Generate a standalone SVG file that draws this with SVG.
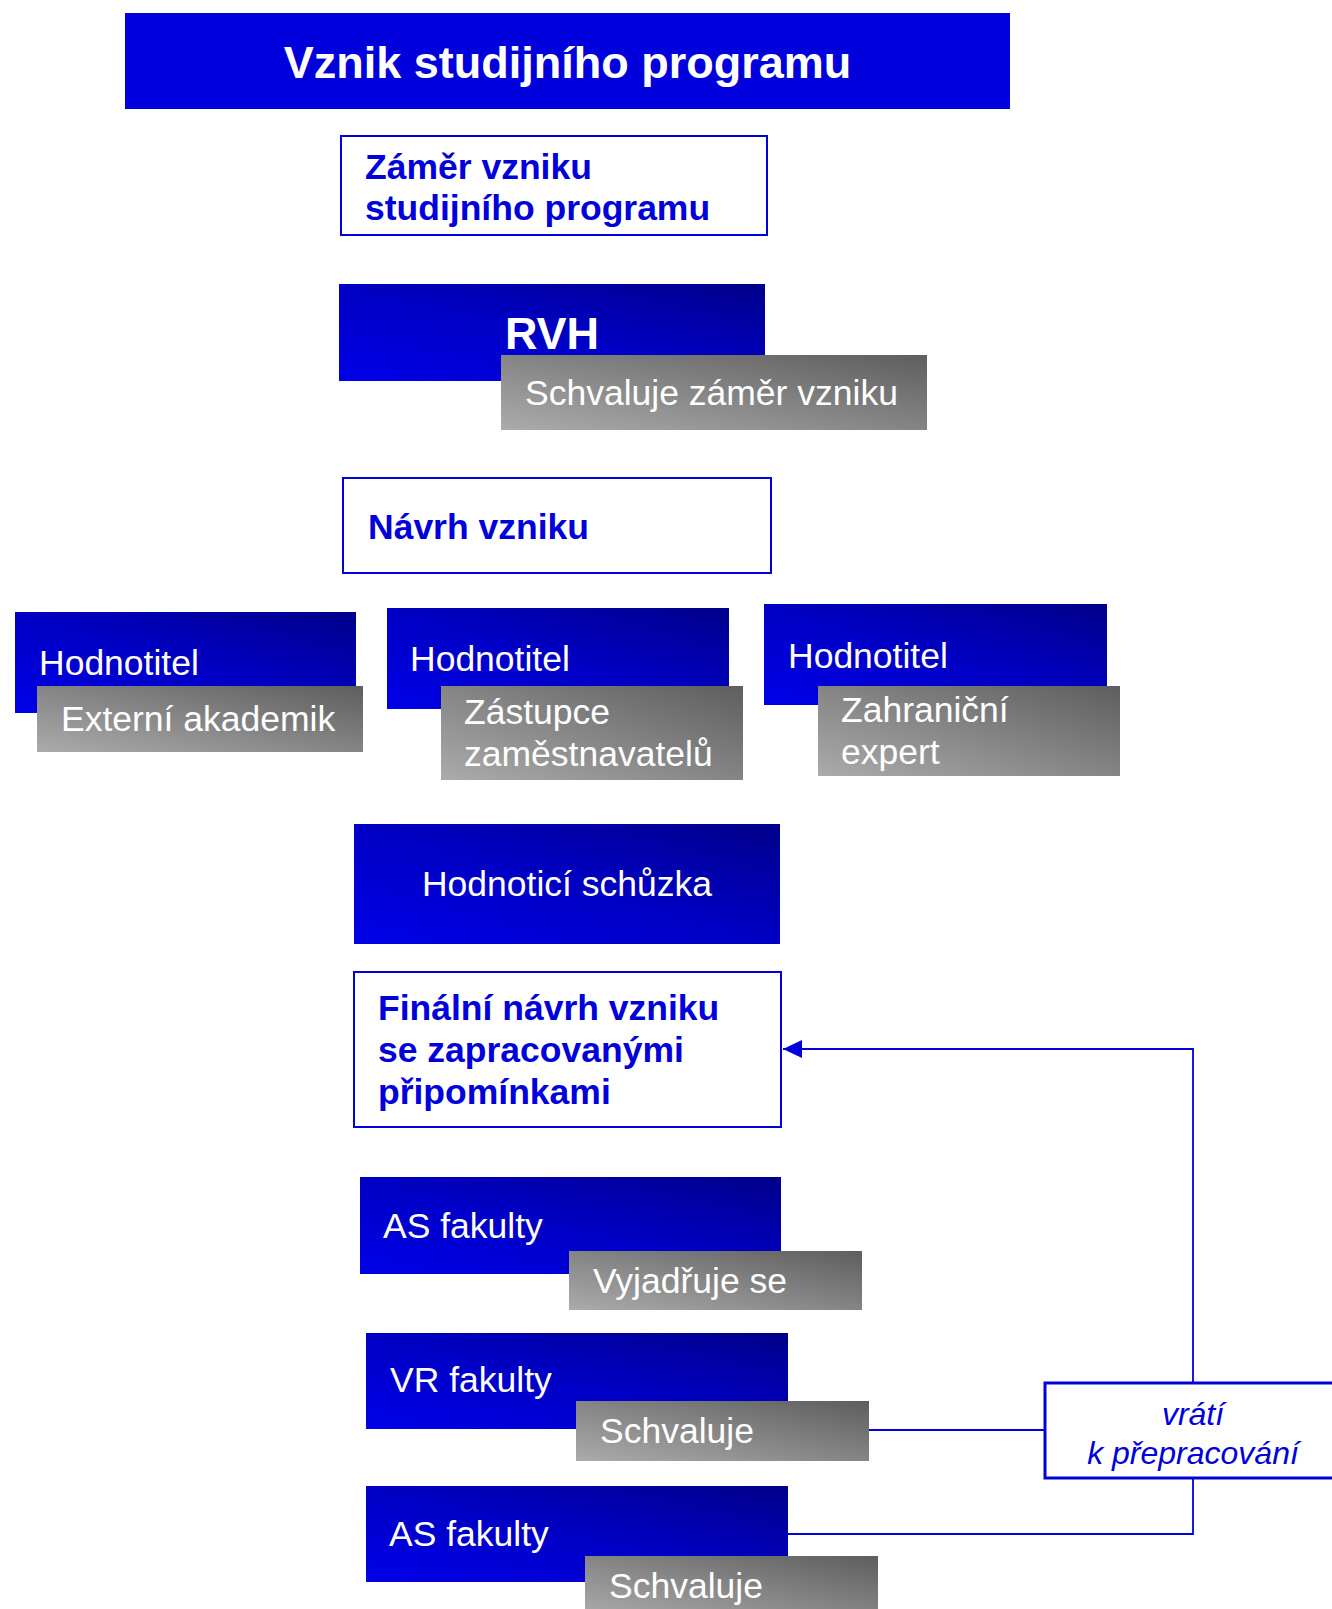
<svg xmlns="http://www.w3.org/2000/svg" width="1332" height="1609" viewBox="0 0 1332 1609">
<style>
.bg{fill:#ffffff}
.title{fill:#0000dc}
.blue{fill:url(#gBlue)}
.gray{fill:url(#gGray)}
.outline{fill:#ffffff;stroke:#0000dd;stroke-width:2}
.outline3{fill:#ffffff;stroke:#0000dd;stroke-width:3}
.t{font-family:"Liberation Sans",Arial,sans-serif}
.tw{fill:#ffffff;font-size:35.5px}
.twb{fill:#ffffff;font-size:45px;font-weight:bold}
.tb{fill:#0000dd;font-size:35.5px;font-weight:bold}
.ti{fill:#0000dd;font-size:32px;font-style:italic}
.conn{fill:none;stroke:#0000dd;stroke-width:1.8}
</style>
<defs>
<linearGradient id="gBlue" x1="0" y1="1" x2="1" y2="0">
<stop offset="0" stop-color="#0000e8"/>
<stop offset="0.5" stop-color="#0000c4"/>
<stop offset="1" stop-color="#00008a"/>
</linearGradient>
<linearGradient id="gGray" x1="0" y1="1" x2="1" y2="0">
<stop offset="0" stop-color="#ababab"/>
<stop offset="1" stop-color="#5e5e5e"/>
</linearGradient>
<marker id="arrow" markerUnits="userSpaceOnUse" markerWidth="20" markerHeight="20" refX="19" refY="9" orient="auto">
<path d="M0,0 L19,9 L0,18 Z" fill="#0000dd"/>
</marker>
</defs>
<rect class="bg" x="0" y="0" width="1332" height="1609"/>

<g id="connectors">
<polyline class="conn" points="1193,1383 1193,1049 783,1049" marker-end="url(#arrow)"/>
<line class="conn" x1="869" y1="1430" x2="1045" y2="1430"/>
<polyline class="conn" points="788,1534 1193,1534 1193,1478"/>
</g>

<g id="title">
<rect class="title" x="125" y="13" width="885" height="96"/>
<text class="t twb" x="567.5" y="78" text-anchor="middle">Vznik studijního programu</text>
</g>

<g id="zamer">
<rect class="outline" x="341" y="136" width="426" height="99"/>
<text class="t tb" x="365" y="179">Záměr vzniku</text>
<text class="t tb" x="365" y="220">studijního programu</text>
</g>

<g id="rvh">
<rect class="blue" x="339" y="284" width="426" height="97"/>
<text class="t twb" x="552" y="349" text-anchor="middle">RVH</text>
</g>
<g id="rvh-schvaluje">
<rect class="gray" x="501" y="355" width="426" height="75"/>
<text class="t tw" x="525" y="405">Schvaluje záměr vzniku</text>
</g>

<g id="navrh">
<rect class="outline" x="343" y="478" width="428" height="95"/>
<text class="t tb" x="368" y="539">Návrh vzniku</text>
</g>

<g id="hodnotitel1">
<rect class="blue" x="15" y="612" width="341" height="101"/>
<text class="t tw" x="39" y="675">Hodnotitel</text>
</g>
<g id="externi">
<rect class="gray" x="37" y="686" width="326" height="66"/>
<text class="t tw" x="61" y="731">Externí akademik</text>
</g>

<g id="hodnotitel2">
<rect class="blue" x="387" y="608" width="342" height="101"/>
<text class="t tw" x="410" y="671">Hodnotitel</text>
</g>
<g id="zastupce">
<rect class="gray" x="441" y="686" width="302" height="94"/>
<text class="t tw" x="464" y="724">Zástupce</text>
<text class="t tw" x="464" y="766">zaměstnavatelů</text>
</g>

<g id="hodnotitel3">
<rect class="blue" x="764" y="604" width="343" height="101"/>
<text class="t tw" x="788" y="668">Hodnotitel</text>
</g>
<g id="zahranicni">
<rect class="gray" x="818" y="686" width="302" height="90"/>
<text class="t tw" x="841" y="722">Zahraniční</text>
<text class="t tw" x="841" y="764">expert</text>
</g>

<g id="schuzka">
<rect class="blue" x="354" y="824" width="426" height="120"/>
<text class="t tw" x="567" y="896" text-anchor="middle">Hodnoticí schůzka</text>
</g>

<g id="financni">
<rect class="outline" x="354" y="972" width="427" height="155"/>
<text class="t tb" x="378" y="1020">Finální návrh vzniku</text>
<text class="t tb" x="378" y="1062">se zapracovanými</text>
<text class="t tb" x="378" y="1104">připomínkami</text>
</g>

<g id="as1">
<rect class="blue" x="360" y="1177" width="421" height="97"/>
<text class="t tw" x="383" y="1238">AS fakulty</text>
</g>
<g id="vyjadruje">
<rect class="gray" x="569" y="1251" width="293" height="59"/>
<text class="t tw" x="593" y="1293">Vyjadřuje se</text>
</g>

<g id="vr">
<rect class="blue" x="366" y="1333" width="422" height="96"/>
<text class="t tw" x="390" y="1392">VR fakulty</text>
</g>
<g id="vr-schvaluje">
<rect class="gray" x="576" y="1401" width="293" height="60"/>
<text class="t tw" x="600" y="1443">Schvaluje</text>
</g>

<g id="as2">
<rect class="blue" x="366" y="1486" width="422" height="96"/>
<text class="t tw" x="389" y="1546">AS fakulty</text>
</g>
<g id="as2-schvaluje">
<rect class="gray" x="585" y="1556" width="293" height="60"/>
<text class="t tw" x="609" y="1598">Schvaluje</text>
</g>

<g id="vrati">
<rect class="outline3" x="1045" y="1383" width="300" height="95"/>
<text class="t ti" x="1193" y="1425" text-anchor="middle">vrátí</text>
<text class="t ti" x="1193" y="1464" text-anchor="middle">k přepracování</text>
</g>
</svg>
